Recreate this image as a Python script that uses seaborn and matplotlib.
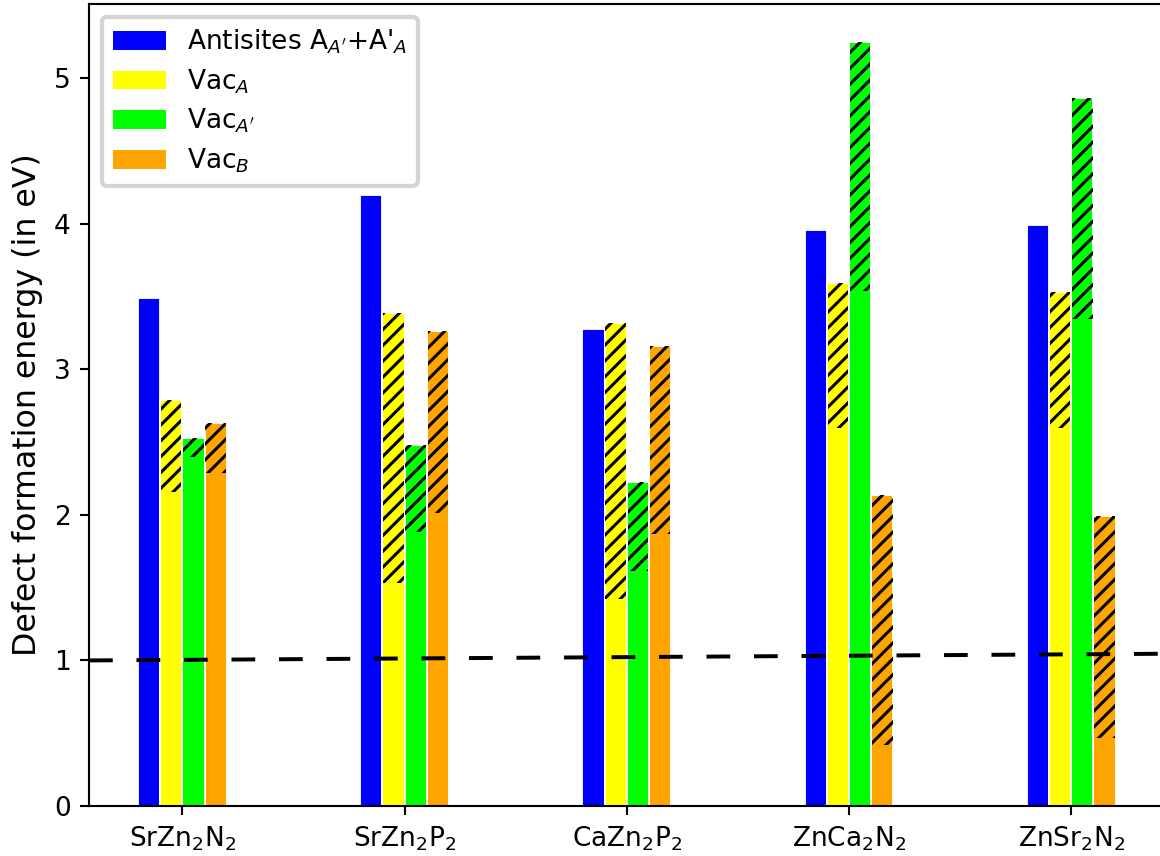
import numpy as np
import pandas as pd
import matplotlib
matplotlib.use("Agg")
import matplotlib.pyplot as plt
from matplotlib.patches import Patch
import seaborn as sns

# ---- data ----
compounds = ['SrZn$_2$N$_2$', 'SrZn$_2$P$_2$', 'CaZn$_2$P$_2$', 'ZnCa$_2$N$_2$', 'ZnSr$_2$N$_2$']
series = ['anti', 'vacA', 'vacAp', 'vacB']
labels = ["Antisites A$_{A'}$+A'$_A$", "Vac$_A$", "Vac$_{A'}$", "Vac$_B$"]
colors = ['#0000ff', '#ffff00', '#00ff00', '#ffa500']

antisites = [3.49, 4.20, 3.28, 3.96, 3.99]
vacA_low = [2.16, 1.53, 1.42, 2.60, 2.60]
vacA_high = [2.79, 3.39, 3.32, 3.59, 3.53]
vacAp_low = [2.40, 1.88, 1.615, 3.54, 3.345]
vacAp_high = [2.53, 2.48, 2.225, 5.25, 4.865]
vacB_low = [2.29, 2.015, 1.87, 0.42, 0.47]
vacB_high = [2.63, 3.26, 3.16, 2.14, 1.99]

ref_x = [-0.42, 4.42]
ref_y = [1.0, 1.046]

highs = {'anti': antisites, 'vacA': vacA_high, 'vacAp': vacAp_high, 'vacB': vacB_high}
lows = {'vacA': vacA_low, 'vacAp': vacAp_low, 'vacB': vacB_low}

rows = []
for s in series:
    for c, v in zip(compounds, highs[s]):
        rows.append({'compound': c, 'series': s, 'value': v})
df = pd.DataFrame(rows)

plt.rcParams['hatch.linewidth'] = 1.15

# ---- figure ----
dpi = 190
fig = plt.figure(figsize=(1160 / dpi, 856 / dpi), dpi=dpi)
ax = fig.add_axes([89 / 1160, 50 / 856, (1164.5 - 89) / 1160, (806 - 4) / 856])

sns.barplot(data=df, x='compound', y='value', hue='series', order=compounds,
            hue_order=series, palette=dict(zip(series, colors)), saturation=1,
            width=0.4, dodge=True, errorbar=None, edgecolor='white',
            linewidth=0.7, legend=False, ax=ax)

xpos = np.arange(len(compounds))
offsets = {'vacA': -0.05, 'vacAp': 0.05, 'vacB': 0.15}
for s in ['vacA', 'vacAp', 'vacB']:
    lo = np.array(lows[s])
    hi = np.array(highs[s])
    ax.bar(xpos + offsets[s], hi - lo, bottom=lo, width=0.092, fill=False,
           hatch='////', edgecolor='black', linewidth=0, zorder=3)

ax.plot(ref_x, ref_y, color='black', lw=1.5, dashes=(6, 6), zorder=4)

ax.set_xlim(-0.42, 4.42)
ax.set_ylim(0, 5.51)
ax.set_xlabel('')
ax.set_ylabel('Defect formation energy (in eV)', fontsize=12)
ax.tick_params(labelsize=10)

handles = [Patch(facecolor=c, edgecolor='none') for c in colors]
leg = ax.legend(handles, labels, loc='upper left', fontsize=10, framealpha=1,
                labelspacing=0.42)
leg.get_frame().set_edgecolor('0.83')
leg.get_frame().set_linewidth(1.6)

fig.savefig('out.png', dpi=dpi)
